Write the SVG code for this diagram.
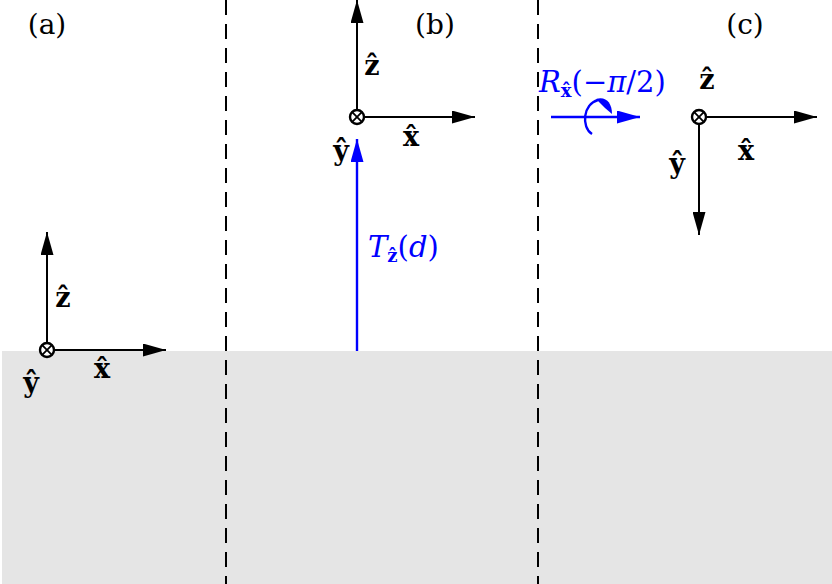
<svg xmlns="http://www.w3.org/2000/svg" width="832" height="584" viewBox="0 0 832 584">
<defs>
<marker id="ak" markerWidth="23" markerHeight="13" refX="23" refY="6.5" orient="auto" markerUnits="userSpaceOnUse"><path d="M0,0 L23,6.5 L0,13 Z" fill="#000"/></marker>
<marker id="ab" markerWidth="23" markerHeight="13" refX="23" refY="6.5" orient="auto" markerUnits="userSpaceOnUse"><path d="M0,0 L23,6.5 L0,13 Z" fill="#0000ff"/></marker>
<g id="otimes"><circle cx="0" cy="0" r="7" fill="#fff" stroke="#000" stroke-width="2.4"/><path d="M-4.8,-4.8 L4.8,4.8 M-4.8,4.8 L4.8,-4.8" stroke="#000" stroke-width="1.8"/></g>
</defs>
<style>
.ax{stroke:#000;stroke-width:2;fill:none;marker-end:url(#ak)}
.bl{stroke:#0000ff;stroke-width:2.4;fill:none;marker-end:url(#ab)}
.dash{stroke:#000;stroke-width:2;stroke-dasharray:15,9}
.lab{font-family:"DejaVu Serif","Liberation Serif",serif;font-size:27px;font-weight:bold;fill:#000;text-anchor:middle}
.cap{font-family:"DejaVu Serif","Liberation Serif",serif;font-size:28px;fill:#000;text-anchor:middle}
.blt{font-family:"DejaVu Serif","Liberation Serif",serif;font-size:29px;fill:#0000ff;font-style:italic}
</style>
<rect x="2" y="351" width="830" height="233" fill="#e5e5e5"/>
<g id="dividers">
<line class="dash" x1="226" y1="0" x2="226" y2="584"/>
<line class="dash" x1="538" y1="0" x2="538" y2="584"/>
</g>
<g id="frame-a">
<line class="ax" x1="47" y1="350" x2="47" y2="232"/>
<line class="ax" x1="47" y1="350" x2="166" y2="350"/>
<use href="#otimes" x="47" y="350"/>
<text class="lab" x="63" y="307">ẑ</text>
<text class="lab" x="102" y="378">x̂</text>
<text class="lab" x="31" y="392">ŷ</text>
<text class="cap" x="47" y="34">(a)</text>
</g>
<g id="frame-b">
<line class="ax" x1="357" y1="117" x2="357" y2="0"/>
<line class="ax" x1="357" y1="117" x2="475" y2="117"/>
<use href="#otimes" x="357" y="117"/>
<text class="lab" x="372" y="75">ẑ</text>
<text class="lab" x="411" y="146">x̂</text>
<text class="lab" x="341" y="160">ŷ</text>
<text class="cap" x="435" y="34">(b)</text>
</g>
<g id="frame-c">
<line class="ax" x1="699" y1="117" x2="817" y2="117"/>
<line class="ax" x1="699" y1="117" x2="699" y2="235"/>
<use href="#otimes" x="699" y="117"/>
<text class="lab" x="707" y="89">ẑ</text>
<text class="lab" x="746" y="160">x̂</text>
<text class="lab" x="677" y="173">ŷ</text>
<text class="cap" x="745" y="34">(c)</text>
</g>
<g id="connectors">
<line class="bl" x1="357" y1="351" x2="357" y2="139"/>
<text class="blt" x="368" y="257">T<tspan font-size="18" font-style="normal" font-weight="bold" dy="5">ẑ</tspan><tspan dy="-5" font-style="normal">(</tspan>d<tspan font-style="normal">)</tspan></text>
<line class="bl" x1="551" y1="117" x2="640" y2="117"/>
<path d="M592,134 C581,127 583,104 598,100" fill="none" stroke="#0000ff" stroke-width="2.4"/>
<path d="M596,99 C606,96 612,103 612,114 L605,108 Z" fill="#0000ff"/>
<text class="blt" x="539" y="92">R<tspan font-size="18" font-style="normal" font-weight="bold" dy="5">x̂</tspan><tspan dy="-5" font-style="normal">(−</tspan>π<tspan font-style="normal">/2)</tspan></text>
</g>
</svg>
